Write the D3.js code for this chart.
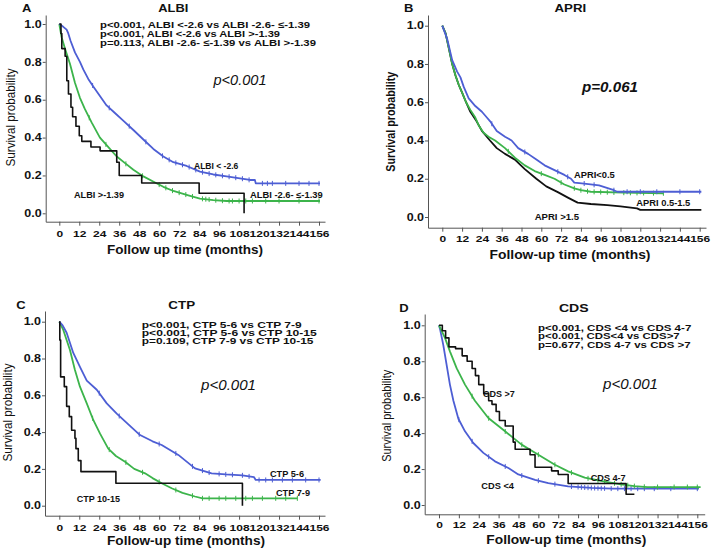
<!DOCTYPE html>
<html><head><meta charset="utf-8">
<script src="https://cdn.jsdelivr.net/npm/d3@7"></script>
<style>body{margin:0;background:#fff} text{font-family:"Liberation Sans",Arial,sans-serif;fill:#111}</style>
</head><body><svg id="c" width="716" height="550"></svg>
<script>
// ---------- tick labels ----------
const monthTicks = [0,12,24,36,48,60,72,84,96,108,120,132,144,156];
const survTicks = [0,0.2,0.4,0.6,0.8,1.0];

// ---------- Panel A: ALBI (months, survival) ----------
const albiLow = [[0,1],[2.4,0.985],[4.4,0.97],[5.4,0.95],[6.8,0.91],[9.4,0.85],[12.4,0.80],[14.4,0.76],[17.4,0.71],[20.4,0.67],[24.4,0.62],[28.4,0.57],[33.4,0.53],[38.4,0.49],[44.5,0.44],[50.5,0.39],[56.5,0.34],[62.5,0.30],[68.5,0.27],[76.5,0.25],[84.5,0.22],[92.5,0.205],[100.5,0.195],[108.5,0.185],[114.5,0.176],[117.5,0.176],[118,0.158],[156.6,0.158]];
const albiMid = [[0,1],[1.4,0.93],[3.4,0.87],[6.4,0.79],[9.4,0.69],[12.4,0.61],[15.4,0.55],[19.4,0.48],[24.4,0.40],[30.4,0.34],[34.5,0.30],[39.5,0.265],[44.5,0.23],[50.5,0.195],[57.5,0.163],[62.5,0.14],[68.5,0.118],[77.5,0.095],[84.5,0.078],[92.5,0.07],[100.5,0.065],[156.6,0.065]];
const albiHigh = [[0,1],[1,0.95],[1.5,0.87],[3.5,0.83],[4.5,0.70],[5.5,0.63],[7,0.56],[8,0.51],[10,0.46],[12,0.41],[13.5,0.38],[19,0.35],[24.5,0.33],[34.5,0.27],[36,0.20],[49.5,0.16],[84,0.106],[111,0.0]];
const albiLowCens = [20,30,42,52,62,66,70,74,78,82,86,90,94,98,102,106,110,114,122,125,128,136,144,150,156];
const albiMidCens = [18,28,40,50,60,64,68,72,76,80,86,88,90,94,98,102,104,108,112,116,124,132,144,156];

// ---------- Panel B: APRI ----------
const apriLow = [[0,1],[3,0.93],[6,0.82],[9,0.76],[11,0.73],[13,0.68],[16,0.62],[20,0.58],[24,0.55],[27,0.52],[29,0.50],[33,0.45],[38,0.42],[42,0.40],[46,0.36],[52,0.33],[57,0.30],[62,0.27],[68,0.245],[74,0.22],[78,0.20],[80,0.18],[86,0.175],[95,0.165],[104,0.14],[106,0.132],[157,0.132]];
const apriMid = [[0,1],[2,0.96],[4,0.88],[6,0.80],[8,0.74],[10,0.69],[12,0.65],[14.4,0.60],[17,0.56],[20,0.52],[22,0.48],[25,0.44],[28,0.42],[32,0.40],[38,0.36],[44,0.31],[50,0.27],[56,0.24],[62,0.22],[68,0.20],[74,0.17],[80,0.15],[84,0.14],[90,0.132],[110,0.127],[134,0.124]];
const apriHigh = [[0,1],[2,0.96],[4,0.88],[6,0.80],[8,0.74],[10,0.69],[12,0.65],[14.4,0.60],[17,0.55],[20.8,0.50],[24,0.45],[28.9,0.40],[33,0.36],[38,0.33],[44,0.30],[50,0.25],[57,0.20],[63,0.16],[70,0.13],[76.4,0.10],[82,0.075],[90,0.068],[100,0.062],[108,0.055],[118,0.045],[120,0.037],[157,0.037]];
const apriLowCens = [30,50,70,76,86,92,104,112,120,130,144,156];
const apriMidCens = [40,60,72,80,84,88,92,96,100,104,110,114,118,122,128,134];

// ---------- Panel C: CTP ----------
const ctpA = [[0,1],[2,0.98],[4.4,0.94],[8.4,0.83],[12.4,0.755],[16.5,0.68],[22.5,0.63],[28.5,0.556],[34.5,0.50],[40.5,0.45],[48.5,0.384],[56,0.35],[61.5,0.33],[71.5,0.276],[81.5,0.203],[91.5,0.176],[100,0.17],[110,0.165],[117,0.155],[118,0.14],[157,0.14]];
const ctpB = [[0,1],[2.4,0.955],[6.4,0.846],[9.4,0.737],[12.4,0.647],[16.5,0.556],[20.4,0.466],[24.4,0.393],[29.4,0.31],[34,0.27],[39.5,0.239],[45,0.20],[51.5,0.176],[56,0.15],[61.5,0.122],[67.5,0.095],[74,0.07],[81.5,0.05],[86,0.04],[143,0.04]];
const ctpC = [[0,1],[0.3,0.90],[0.8,0.70],[3,0.647],[4.4,0.54],[6,0.484],[7.4,0.41],[9.4,0.366],[10,0.31],[11.4,0.245],[13,0.185],[34,0.122],[110,0.0]];
const ctpACens = [24,36,48,60,70,80,86,90,96,100,104,110,114,120,124,128,134,140,148,156];
const ctpBCens = [20,30,40,50,60,70,80,86,90,96,100,106,112,116,122,130,136,143];

// ---------- Panel D: CDS ----------
const cdsLow = [[0,1],[0.6,0.98],[2.6,0.89],[4.6,0.78],[6.6,0.67],[8.7,0.58],[11.7,0.48],[15.7,0.41],[20.7,0.345],[26.8,0.29],[33.8,0.243],[41.9,0.206],[47.9,0.17],[58,0.14],[66,0.122],[78,0.104],[92,0.095],[105,0.091],[157,0.091]];
const cdsMid = [[0,1],[1.5,0.97],[3.6,0.93],[6.6,0.855],[10.7,0.76],[15.7,0.67],[21.7,0.58],[29.8,0.484],[39.9,0.41],[49.9,0.336],[60,0.28],[70,0.224],[78,0.187],[88,0.152],[100,0.13],[110,0.115],[118,0.105],[126,0.10],[158,0.10]];
const cdsHigh = [[0,1],[2,0.97],[4,0.93],[6,0.88],[10,0.87],[14,0.83],[17,0.80],[20,0.76],[22,0.72],[24,0.67],[27,0.62],[30,0.58],[32,0.56],[34.5,0.52],[36.5,0.47],[40,0.44],[44.8,0.35],[46,0.31],[55,0.28],[58,0.21],[68,0.19],[72,0.17],[78,0.12],[113,0.06],[118,0.06]];
const cdsLowCens = [12,20,30,40,50,60,70,80,84,86,88,90,92,94,96,98,100,104,108,112,116,120,124,130,140,156];
const cdsMidCens = [20,30,40,50,60,70,80,90,96,100,106,110,114,118,124,132,142,150,156];

const BLUE = "#4d5ed4", GREEN = "#3cb44b", BLACK = "#111";

// series entries: [data, colour, censor times, step-drawn (few subjects)]
const panels = [
 {letter:"A", title:"ALBI", x0:59.3, x156:319, y0:213.3, y1:24, ax:45.7, ay:221.7, xEnd:325, yTop:15,
  letterPos:[26.7,11.5], titlePos:[173.3,11.5], titleLen:30,
  yTitle:[10,117.5,98,"normal"], xTitle:["Follow up time (months)",185,254,156], xLabOff:15.8,
  pval:["p<0.001",240,85,53,"normal"],
  notes:[["p<0.001, ALBI <-2.6 vs ALBI -2.6- \u2264-1.39",210],["p<0.001, ALBI <-2.6 vs ALBI >-1.39",180],["p=0.113, ALBI -2.6- \u2264-1.39 vs ALBI >-1.39",216]],
  notePos:[100,27.5,9],
  series:[[albiMid,GREEN,albiMidCens,false],[albiLow,BLUE,albiLowCens,false],[albiHigh,BLACK,[],true]],
  labels:[["ALBI < -2.6",194,169,44.3],["ALBI >-1.39",74,198,50],["ALBI -2.6- \u2264-1.39",250,197.5,72.7]]},
 {letter:"B", title:"APRI", x0:442.3, x156:699.7, y0:217, y1:25.7, ax:428, ay:227.7, xEnd:706, yTop:15,
  letterPos:[408.8,11.5], titlePos:[570.3,11.5], titleLen:31.7,
  yTitle:[390,121.7,100,"bold"], xTitle:["Follow-up time (months)",570,258.7,161], xLabOff:14.5,
  pval:["p=0.061",610,92,56,"bold"],
  notes:[], notePos:[0,0,0],
  series:[[apriHigh,BLACK,[],false],[apriMid,GREEN,apriMidCens,false],[apriLow,BLUE,apriLowCens,false]],
  labels:[["APRI<0.5",574,178,40.7],["APRI 0.5-1.5",636.3,206,54],["APRI >1.5",534.7,220,44.3]]},
 {letter:"C", title:"CTP", x0:59.3, x156:319, y0:505.7, y1:321.7, ax:45, ay:515.7, xEnd:325, yTop:311,
  letterPos:[21,308.5], titlePos:[181.7,308.5], titleLen:26.7,
  yTitle:[7.7,412.5,98,"normal"], xTitle:["Follow-up time (months)",186,545,158], xLabOff:15.1,
  pval:["p<0.001",228.5,389.5,55,"normal"],
  notes:[["p<0.001, CTP 5-6 vs CTP 7-9",160],["p<0.001, CTP 5-6 vs CTP 10-15",175],["p=0.109, CTP 7-9 vs CTP 10-15",171.7]],
  notePos:[141.7,327.5,8.4],
  series:[[ctpB,GREEN,ctpBCens,false],[ctpA,BLUE,ctpACens,false],[ctpC,BLACK,[],true]],
  labels:[["CTP 5-6",270,477,34],["CTP 7-9",276,495.5,34],["CTP 10-15",76.7,502,43.3]]},
 {letter:"D", title:"CDS", x0:439, x156:697.3, y0:505, y1:325.3, ax:424.7, ay:514.3, xEnd:704.7, yTop:314,
  letterPos:[404,312], titlePos:[573.8,312], titleLen:29.7,
  yTitle:[386,415.8,92,"normal"], xTitle:["Follow-up time (months)",566.3,544,160], xLabOff:13.5,
  pval:["p<0.001",630.5,388.5,55,"normal"],
  notes:[["p<0.001, CDS <4 vs CDS 4-7",153.3],["p<0.001, CDS<4 vs CDS>7",141.7],["p=0.677, CDS 4-7 vs CDS >7",152.7]],
  notePos:[538,330.5,8.5],
  series:[[cdsLow,BLUE,cdsLowCens,false],[cdsMid,GREEN,cdsMidCens,false],[cdsHigh,BLACK,[],true]],
  labels:[["CDS >7",483,396.5,31.7],["CDS 4-7",590.7,480.5,35],["CDS <4",481.3,489,32.7]]}
];

const svg = d3.select("#c");
svg.append("rect").attr("width",716).attr("height",550).attr("fill","#fff");

function txt(g,x,y,str,o={}){
  const t=g.append("text")
    .attr("transform",`translate(${x},${y})`+(o.rot?` rotate(${o.rot})`:"")+` scale(1,${o.sy||1})`)
    .attr("text-anchor",o.anchor||"start")
    .style("font-size",(o.size||12)+"px")
    .style("font-weight",o.weight||"bold")
    .style("font-style",o.italic?"italic":"normal")
    .text(str);
  if(o.dy) t.attr("dy",o.dy);
  if(o.len) t.attr("textLength",o.len).attr("lengthAdjust","spacingAndGlyphs");
  return t;
}
function survAt(series,t){
  // value on the drawn line at time t
  for(let i=1;i<series.length;i++){
    const a=series[i-1],b=series[i];
    if(t<=b[0]){ if(b[0]===a[0]) return b[1]; return a[1]+(b[1]-a[1])*(t-a[0])/(b[0]-a[0]); }
  }
  return series[series.length-1][1];
}
function stepAt(series,t){let s=series[0][1];for(const p of series){if(p[0]<=t)s=p[1];else break;}return s;}

panels.forEach(P=>{
  const g=svg.append("g");
  const sx=d3.scaleLinear().domain([0,156]).range([P.x0,P.x156]);
  const sy=d3.scaleLinear().domain([0,1]).range([P.y0,P.y1]);
  const x=d3.scaleLinear().domain([sx.invert(P.ax),sx.invert(P.xEnd)]).range([P.ax,P.xEnd]);
  const y=d3.scaleLinear().domain([sy.invert(P.ay),sy.invert(P.yTop)]).range([P.ay,P.yTop]);

  const xa=g.append("g").attr("transform",`translate(0,${P.ay})`)
    .call(d3.axisBottom(x).tickValues(monthTicks).tickSize(4).tickSizeOuter(0));
  xa.selectAll("text").attr("transform","scale(1,0.8)").attr("y",P.xLabOff/0.8).attr("dy",0)
    .style("font-size","12px").style("font-weight","bold").style("font-family",'"Liberation Sans",Arial,sans-serif').attr("fill","#111");
  const ya=g.append("g").attr("transform",`translate(${P.ax},0)`)
    .call(d3.axisLeft(y).tickValues(survTicks).tickFormat(d3.format(".1f")).tickSize(3).tickPadding(1).tickSizeOuter(0));
  ya.selectAll("text").attr("transform","scale(1,0.8)").attr("y",0)
    .style("font-size","12.5px").style("font-weight","bold").style("font-family",'"Liberation Sans",Arial,sans-serif').attr("fill","#111");
  g.selectAll(".domain, .tick line").attr("stroke","#555");

  P.series.forEach(([data,col,cens,step])=>{
    const line=d3.line().x(d=>x(d[0])).y(d=>y(d[1])).curve(step?d3.curveStepAfter:d3.curveLinear);
    const at=step?stepAt:survAt;
    g.append("path").datum(data).attr("d",line).attr("fill","none").attr("stroke",col)
      .attr("stroke-width",step?1.6:1.8).attr("stroke-linejoin","round");
    g.selectAll(null).data(cens).enter().append("line")
      .attr("x1",d=>x(d)).attr("x2",d=>x(d))
      .attr("y1",d=>y(at(data,d))-2.5).attr("y2",d=>y(at(data,d))+2.5)
      .attr("stroke",col).attr("stroke-width",1);
  });

  txt(g,P.letterPos[0],P.letterPos[1],P.letter,{anchor:"middle",size:13,sy:0.85});
  txt(g,P.titlePos[0],P.titlePos[1],P.title,{anchor:"middle",size:13.3,len:P.titleLen,sy:0.85});
  txt(g,P.yTitle[0],P.yTitle[1],"Survival probability",{anchor:"middle",size:13,rot:-90,dy:"0.35em",len:P.yTitle[2],weight:P.yTitle[3]});
  txt(g,P.xTitle[1],P.xTitle[2],P.xTitle[0],{anchor:"middle",size:13.5,len:P.xTitle[3]});
  txt(g,P.pval[1],P.pval[2],P.pval[0],{anchor:"middle",size:15,italic:true,weight:P.pval[4],len:P.pval[3]});
  P.notes.forEach((n,i)=>txt(g,P.notePos[0],P.notePos[1]+i*P.notePos[2],n[0],{size:11.5,sy:0.8,len:n[1]}));
  P.labels.forEach(l=>txt(g,l[1],l[2],l[0],{size:10,sy:0.85,len:l[3]}));
});
</script></body></html>
